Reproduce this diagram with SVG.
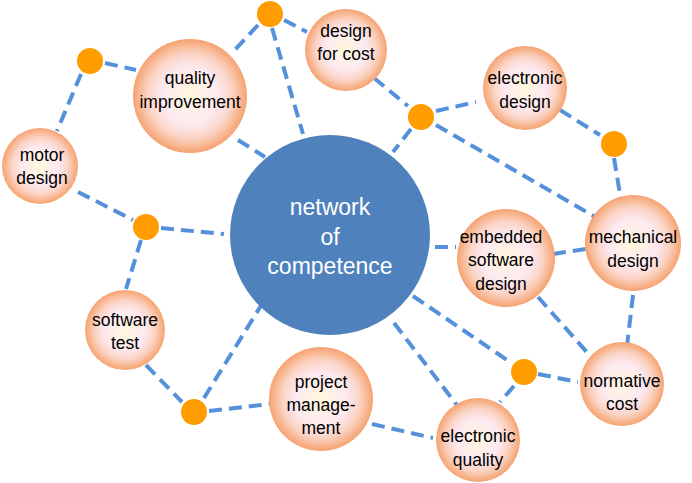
<svg xmlns="http://www.w3.org/2000/svg" width="692" height="483" viewBox="0 0 692 483">
<defs>
<radialGradient id="g" cx="50%" cy="50%" r="50%">
<stop offset="0" stop-color="#FFF8DE"/>
<stop offset="0.5" stop-color="#FDE9F0"/>
<stop offset="0.74" stop-color="#FBD4C6"/>
<stop offset="0.9" stop-color="#F8B690"/>
<stop offset="1" stop-color="#F5A272"/>
</radialGradient>
<style>
.c{stroke:#5590DA;stroke-width:4;stroke-dasharray:13 7;fill:none}
.n{fill:url(#g)}
.d{fill:#FF9C00}
.t{font-family:"Liberation Sans",Arial,sans-serif;font-size:17.5px;fill:#000;text-anchor:middle}
.w{font-family:"Liberation Sans",Arial,sans-serif;font-size:23px;fill:#fff;text-anchor:middle}
</style>
</defs>
<rect width="692" height="483" fill="#fff"/>
<g id="connectors">
<line class="c" x1="105" y1="63" x2="136" y2="70"/>
<line class="c" x1="81" y1="74" x2="57" y2="131"/>
<line class="c" x1="258" y1="25" x2="232" y2="53"/>
<line class="c" x1="284" y1="20" x2="307" y2="32"/>
<line class="c" x1="272" y1="28" x2="303" y2="134"/>
<line class="c" x1="238" y1="140" x2="265" y2="157"/>
<line class="c" x1="374" y1="78" x2="408" y2="106"/>
<line class="c" x1="436" y1="111" x2="476" y2="102"/>
<line class="c" x1="411" y1="129" x2="393" y2="152"/>
<line class="c" x1="436" y1="125" x2="597" y2="218"/>
<line class="c" x1="560" y1="110" x2="600" y2="135"/>
<line class="c" x1="614" y1="158" x2="620" y2="194"/>
<line class="c" x1="78" y1="192" x2="133" y2="220"/>
<line class="c" x1="161" y1="228" x2="224" y2="234"/>
<line class="c" x1="141" y1="240" x2="126" y2="289"/>
<line class="c" x1="146" y1="365" x2="182" y2="402"/>
<line class="c" x1="204" y1="398" x2="262" y2="304"/>
<line class="c" x1="209" y1="411" x2="270" y2="404"/>
<line class="c" x1="413" y1="296" x2="510" y2="362"/>
<line class="c" x1="514" y1="386" x2="500" y2="402"/>
<line class="c" x1="538" y1="374" x2="578" y2="382"/>
<line class="c" x1="394" y1="323" x2="463" y2="413"/>
<line class="c" x1="372" y1="424" x2="433" y2="438"/>
<line class="c" x1="435" y1="247" x2="456" y2="247"/>
<line class="c" x1="553" y1="254" x2="586" y2="249"/>
<line class="c" x1="538" y1="297" x2="592" y2="358"/>
<line class="c" x1="633" y1="295" x2="627" y2="346"/>
</g>
<g id="center"><circle cx="330" cy="235" r="100" fill="#4F81BD"/>
<text class="w" x="330" y="215">network</text><text class="w" x="330" y="245">of</text><text class="w" x="330" y="274">competence</text></g>
<g id="quality-improvement"><circle class="n" cx="190" cy="96" r="57"/><text class="t" x="190" y="84">quality</text><text class="t" x="190" y="108">improvement</text></g>
<g id="design-for-cost"><circle class="n" cx="346" cy="50" r="41"/><text class="t" x="346" y="37">design</text><text class="t" x="346" y="60">for cost</text></g>
<g id="electronic-design"><circle class="n" cx="525" cy="88" r="42"/><text class="t" x="525" y="84">electronic</text><text class="t" x="525" y="108">design</text></g>
<g id="motor-design"><circle class="n" cx="40" cy="166" r="38"/><text class="t" x="42" y="161">motor</text><text class="t" x="42" y="184">design</text></g>
<g id="mechanical-design"><circle class="n" cx="633" cy="243" r="48"/><text class="t" x="633" y="243">mechanical</text><text class="t" x="633" y="267">design</text></g>
<g id="embedded-software-design"><circle class="n" cx="506" cy="258" r="49"/><text class="t" x="501" y="243">embedded</text><text class="t" x="501" y="266">software</text><text class="t" x="501" y="290">design</text></g>
<g id="software-test"><circle class="n" cx="125" cy="330" r="40"/><text class="t" x="125" y="326">software</text><text class="t" x="125" y="349">test</text></g>
<g id="project-management"><circle class="n" cx="321" cy="399" r="52"/><text class="t" x="321" y="388">project</text><text class="t" x="321" y="411">manage-</text><text class="t" x="321" y="434">ment</text></g>
<g id="electronic-quality"><circle class="n" cx="478" cy="440" r="42"/><text class="t" x="478" y="442">electronic</text><text class="t" x="478" y="466">quality</text></g>
<g id="normative-cost"><circle class="n" cx="622" cy="384" r="42"/><text class="t" x="622" y="387">normative</text><text class="t" x="622" y="410">cost</text></g>
<g id="dots">
<circle class="d" cx="90" cy="61" r="13"/>
<circle class="d" cx="270" cy="14" r="13"/>
<circle class="d" cx="421" cy="117" r="13"/>
<circle class="d" cx="614" cy="144" r="13"/>
<circle class="d" cx="146" cy="227" r="13"/>
<circle class="d" cx="194" cy="412" r="13"/>
<circle class="d" cx="524" cy="372" r="13"/>
</g>
</svg>
